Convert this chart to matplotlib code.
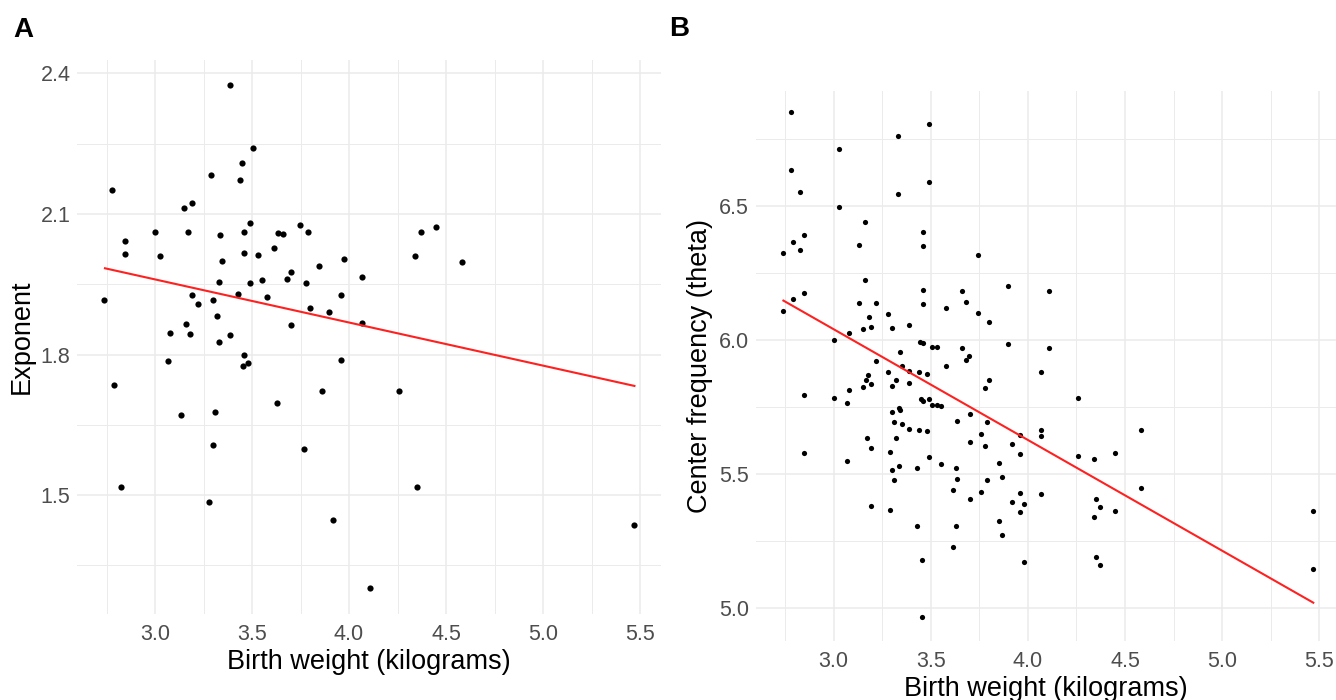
import matplotlib
matplotlib.use("Agg")
import matplotlib.pyplot as plt
import numpy as np

plt.rcParams['font.family'] = ['Liberation Sans', 'DejaVu Sans']

# ---------------- Panel A data: birth weight vs exponent ----------------
a_weight = [3.388, 3.507, 3.448, 3.289, 3.438, 2.778, 3.148, 3.189, 3.488, 3.745,
            3.002, 3.169, 3.335, 3.459, 3.634, 3.658, 3.789, 2.847, 2.847, 3.027,
            3.459, 3.531, 3.613, 3.347, 3.974, 3.847, 3.699, 3.678, 3.778, 4.065,
            3.552, 3.330, 3.488, 2.737, 3.189, 3.428, 3.299, 3.579, 3.959, 3.222,
            3.799, 3.899, 4.067, 3.699, 3.158, 3.318, 3.076, 3.179, 3.388, 3.328,
            3.459, 3.067, 3.451, 3.479, 3.959, 2.787, 3.862, 3.629, 3.132, 3.309,
            3.299, 3.768, 2.826, 3.278, 3.918, 4.110, 4.369, 4.450, 4.339, 4.581,
            4.259, 4.351, 5.471]
a_exponent = [2.375, 2.240, 2.209, 2.183, 2.172, 2.152, 2.112, 2.123, 2.081, 2.077,
              2.062, 2.061, 2.055, 2.061, 2.059, 2.057, 2.062, 2.042, 2.015, 2.011,
              2.017, 2.012, 2.027, 2.000, 2.003, 1.988, 1.975, 1.962, 1.953, 1.965,
              1.960, 1.954, 1.952, 1.916, 1.928, 1.930, 1.917, 1.922, 1.926, 1.907,
              1.900, 1.891, 1.867, 1.863, 1.865, 1.883, 1.845, 1.844, 1.842, 1.826,
              1.800, 1.787, 1.775, 1.781, 1.788, 1.736, 1.723, 1.697, 1.670, 1.677,
              1.608, 1.598, 1.517, 1.485, 1.448, 1.302, 2.061, 2.072, 2.010, 1.997,
              1.723, 1.517, 1.436]
a_fit_x = [2.742, 5.471]
a_fit_y = [1.984, 1.733]

# ---------------- Panel B data: birth weight vs center frequency ----------------
b_weight = [2.780, 3.489, 3.329, 3.029, 2.780, 3.489, 2.828, 3.329, 3.029, 3.160,
            3.460, 2.849, 2.789, 3.132, 3.460, 2.828, 2.739, 3.743, 3.899, 3.160,
            3.460, 3.659, 2.849, 2.789, 3.680, 3.132, 3.218, 3.460, 3.580, 2.739,
            3.743, 3.280, 3.180, 3.798, 3.388, 3.149, 3.190, 3.300, 3.079, 3.003,
            3.899, 3.446, 3.458, 3.508, 3.530, 3.659, 3.340, 3.698, 3.680, 3.218,
            3.580, 3.350,
            3.280, 3.389, 3.441, 3.479, 3.179, 3.168, 3.319, 3.389, 3.190, 3.149,
            3.300, 3.799, 3.779, 3.079, 2.849, 3.003, 3.068, 3.449, 3.458, 3.489,
            3.508, 3.532, 3.554, 3.300, 3.335, 3.340, 3.700, 3.635, 3.789, 3.309,
            3.350, 3.389, 3.441, 3.479, 3.758, 3.959, 3.170, 3.319, 3.700, 3.919,
            3.779, 3.190, 3.959, 2.849, 3.290, 3.489, 3.068, 3.554, 3.849, 3.336,
            3.429, 3.630, 3.300, 3.865, 3.309, 3.635, 3.789, 3.613, 3.758, 3.959,
            4.066, 3.700, 3.919, 3.980, 3.959, 3.190, 3.290, 3.849, 3.429, 3.630,
            3.865, 3.613, 3.453, 3.980, 3.453,
            4.110, 4.069, 4.259, 4.069, 4.066, 4.580, 4.259, 4.340, 4.448, 4.580,
            4.349, 4.369, 4.448, 4.340, 4.349, 4.369, 5.469, 5.469, 4.110]
b_theta = [6.850, 6.805, 6.762, 6.713, 6.634, 6.588, 6.551, 6.546, 6.497, 6.441,
           6.404, 6.392, 6.367, 6.353, 6.352, 6.335, 6.323, 6.318, 6.200, 6.225,
           6.188, 6.184, 6.177, 6.152, 6.141, 6.138, 6.138, 6.135, 6.119, 6.108,
           6.102, 6.098, 6.085, 6.066, 6.056, 6.042, 6.050, 6.046, 6.027, 5.999,
           5.985, 5.994, 5.988, 5.974, 5.975, 5.969, 5.954, 5.939, 5.925, 5.923,
           5.903, 5.902,
           5.881, 5.886, 5.881, 5.874, 5.869, 5.852, 5.851, 5.841, 5.836, 5.826,
           5.830, 5.850, 5.821, 5.812, 5.794, 5.782, 5.764, 5.779, 5.772, 5.779,
           5.759, 5.759, 5.755, 5.730, 5.745, 5.739, 5.724, 5.697, 5.694, 5.693,
           5.685, 5.668, 5.665, 5.659, 5.649, 5.646, 5.636, 5.634, 5.621, 5.613,
           5.604, 5.596, 5.573, 5.577, 5.582, 5.562, 5.547, 5.538, 5.540, 5.529,
           5.524, 5.522, 5.514, 5.489, 5.476, 5.480, 5.478, 5.441, 5.433, 5.429,
           5.425, 5.406, 5.397, 5.388, 5.357, 5.379, 5.367, 5.323, 5.307, 5.306,
           5.272, 5.226, 5.180, 5.172, 4.965,
           5.969, 5.881, 5.784, 5.664, 5.642, 5.664, 5.568, 5.555, 5.577, 5.449,
           5.407, 5.377, 5.361, 5.338, 5.190, 5.162, 5.363, 5.147, 6.184]
b_fit_x = [2.741, 5.469]
b_fit_y = [6.147, 5.020]

x_ticks = [3.0, 3.5, 4.0, 4.5, 5.0, 5.5]
x_minor = [2.75, 3.25, 3.75, 4.25, 4.75, 5.25]
a_yticks = [1.5, 1.8, 2.1, 2.4]
a_yminor = [1.35, 1.65, 1.95, 2.25]
b_yticks = [5.0, 5.5, 6.0, 6.5]
b_yminor = [5.25, 5.75, 6.25, 6.75]

W, H = 1336, 700
fig = plt.figure(figsize=(W / 100, H / 100), dpi=100)

def px_axes(left, top, right, bottom):
    return fig.add_axes([left / W, 1 - bottom / H, (right - left) / W, (bottom - top) / H])

GRID = '#EBEBEB'
TICKC = '#4D4D4D'

def style(ax, yt, ym, xlim, ylim):
    ax.set_xlim(*xlim)
    ax.set_ylim(*ylim)
    ax.set_xticks(x_ticks)
    ax.set_xticks(x_minor, minor=True)
    ax.set_yticks(yt)
    ax.set_yticks(ym, minor=True)
    ax.set_xticklabels([f"{v:.1f}" for v in x_ticks])
    ax.set_yticklabels([f"{v:.1f}" for v in yt])
    ax.grid(True, which='major', color=GRID, linewidth=1.1)
    ax.grid(True, which='minor', color=GRID, linewidth=0.7)
    ax.set_axisbelow(True)
    for s in ax.spines.values():
        s.set_visible(False)
    ax.tick_params(which='both', length=0)
    ax.tick_params(axis='x', pad=7, labelsize=15.5, labelcolor=TICKC)
    ax.tick_params(axis='y', pad=5, labelsize=15.5, labelcolor=TICKC)

# Panel A
axA = px_axes(77.4, 59.7, 661, 614)
style(axA, a_yticks, a_yminor, (2.600, 5.608), (1.2464, 2.429))
axA.scatter(a_weight, a_exponent, s=20, color='black', linewidths=0, zorder=3)
axA.plot(a_fit_x, a_fit_y, color='#FF2020', linewidth=1.5, zorder=4)
axA.set_xlabel('Birth weight (kilograms)', fontsize=19.5, labelpad=3)
axA.set_ylabel('Exponent', fontsize=19.5, labelpad=4)

# Panel B
axB = px_axes(756, 90.7, 1336, 641)
style(axB, b_yticks, b_yminor, (2.600, 5.586), (4.877, 6.930))
axB.scatter(b_weight, b_theta, s=14, color='black', linewidths=0, zorder=3)
axB.plot(b_fit_x, b_fit_y, color='#FF2020', linewidth=1.5, zorder=4)
axB.set_xlabel('Birth weight (kilograms)', fontsize=19.5, labelpad=3)
axB.set_ylabel('Center frequency (theta)', fontsize=19.5, labelpad=4)

fig.text(13 / W, 1 - 37 / H, 'A', fontsize=20, fontweight='bold', ha='left', va='baseline')
fig.text(669 / W, 1 - 36 / H, 'B', fontsize=20, fontweight='bold', ha='left', va='baseline')

fig.savefig('out.png', dpi=100, facecolor='white')
